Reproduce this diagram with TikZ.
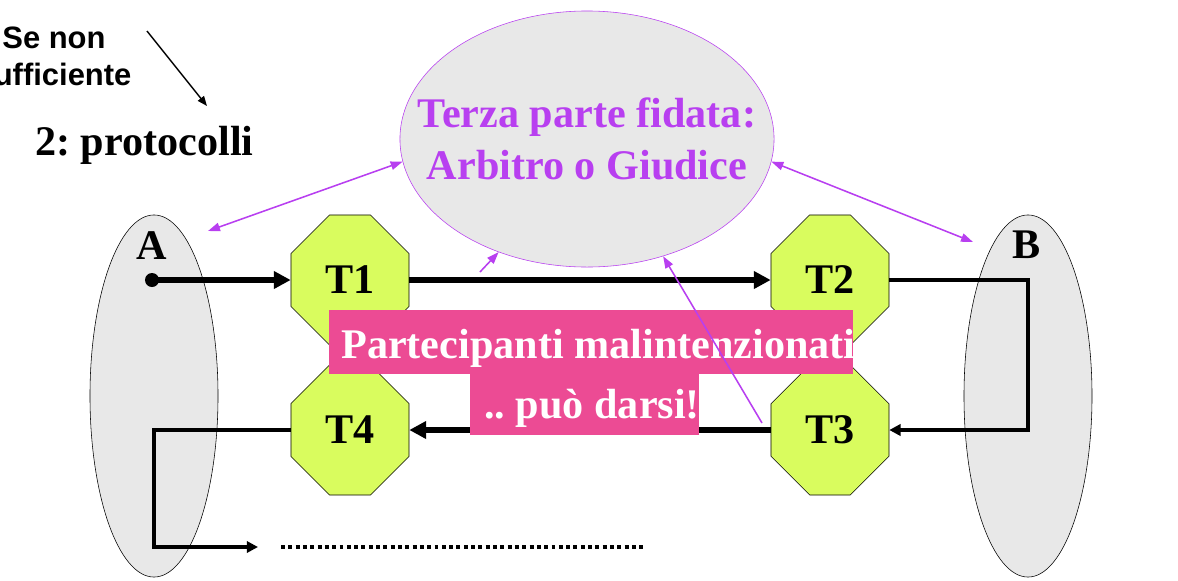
\documentclass[tikz,border=0pt]{standalone}
\usepackage{fontspec}
\setmainfont{Liberation Serif}
\newfontfamily\sansfont{Liberation Sans}
\usetikzlibrary{shapes.geometric,shapes.misc,arrows.meta}
\frenchspacing

\definecolor{shade}{RGB}{232,232,232}
\definecolor{lime}{RGB}{217,252,94}
\definecolor{rosa}{RGB}{236,75,148}
\definecolor{viola}{RGB}{184,63,240}

\tikzset{
  big/.style={font=\fontsize{30}{37}\selectfont\bfseries},
  party/.style={ellipse, draw, thin, fill=shade, minimum width=3.2cm, minimum height=9.05cm},
  tappa/.style={chamfered rectangle, chamfered rectangle sep=0.85cm, draw, thin, fill=lime,
    inner sep=0pt, minimum width=2.95cm, minimum height=3.25cm, big},
  flow/.style={line width=3.8pt, -{Triangle[length=12pt,width=12pt]}},
  back/.style={line width=2.4pt, -{Triangle[length=8pt,width=8pt]}},
  link/.style={viola, line width=1.1pt, {Triangle[length=8.5pt,width=6pt]}-{Triangle[length=8.5pt,width=6pt]}},
  hint/.style={viola, line width=1.1pt, -{Triangle[length=8.5pt,width=6pt]}},
  avviso/.style={fill=rosa, inner sep=0pt},
  bianco/.style={text=white, inner sep=0pt, big, anchor=base west},
}

\begin{document}
\begin{tikzpicture}[x=0.025cm, y=-0.025cm]
  \useasboundingbox (0,0) rectangle (1178,580);

  % le parti A e B
  \node[party] (A) at (154,396) {};
  \node[party] (B) at (1028,396) {};
  \node[big, anchor=base, inner sep=0pt] (Alab) at (152,259) {A};
  \node[big, anchor=base, inner sep=0pt] (Blab) at (1027,258) {B};

  % terza parte
  \node[ellipse, draw=viola, thin, fill=shade, minimum width=9.35cm, minimum height=6.4cm,
    inner sep=0pt] (judge) at (587,139) {};
  \node[align=center, text=viola, big, inner sep=0pt] (judgetxt) at (judge.center)
    {Terza parte fidata:\\Arbitro o Giudice};

  \node[font=\sansfont\fontsize{22}{26.3}\selectfont\bfseries, align=center, anchor=north,
    inner sep=0pt] (cond) at (54,26.5) {Se non\\sufficiente};
  \node[big, anchor=base west, inner sep=0pt] (proto) at (35,155) {2: protocolli};
  \coordinate (c1) at (147,31);
  \coordinate (c2) at (207,106);
  \draw[line width=1pt, -{Triangle[length=7pt,width=5.5pt]}] (c1) -- (c2);

  \coordinate (pA) at (208,231);
  \coordinate (pB) at (973,242);
  \coordinate (p1) at (480,272);
  \coordinate (p3) at (762,423);
  \draw[link] (pA) -- (judge.187);
  \draw[link] (judge.353) -- (pB);
  \draw[hint] (p1) -- (judge.232);

  % catena
  \node[circle, fill, inner sep=0pt, minimum size=0.35cm] (dot) at (152,280) {};
  \node[tappa] (T1) at (350,280) {T1};
  \node[tappa] (T2) at (830,280) {T2};
  \node[tappa] (T3) at (830,430) {T3};
  \node[tappa] (T4) at (350,430) {T4};
  \coordinate (Aturn) at (154,547);
  \coordinate (Aend) at (258,547);

  \draw[flow] (dot.center) -- (T1.west);
  \draw[flow] (T1.east) -- (T2.west);
  \draw[back] (T2.east) -| (B.center) |- (T3.east);
  \draw[flow] (T3.west) -- (T4.east);
  \draw[back] (T4.west) -| (Aturn) -- (Aend);

  \coordinate (d1) at (281,547);
  \coordinate (d2) at (644,547);
  \draw[line width=2.6pt, dash pattern=on 2.8pt off 2.4pt] (d1) -- (d2);

  % avvisi
  \node[avviso, minimum width=13.1cm, minimum height=1.6cm] (mal) at (591,342) {};
  \node[bianco] (maltxt) at (341,358) {Partecipanti malintenzionati};
  \node[avviso, minimum width=5.725cm, minimum height=1.525cm] (forse) at (584.5,404.5) {};
  \node[bianco] (forsetxt) at (484,418) {.. può darsi!};

  \draw[hint] (p3) -- (judge.303);
\end{tikzpicture}
\end{document}
